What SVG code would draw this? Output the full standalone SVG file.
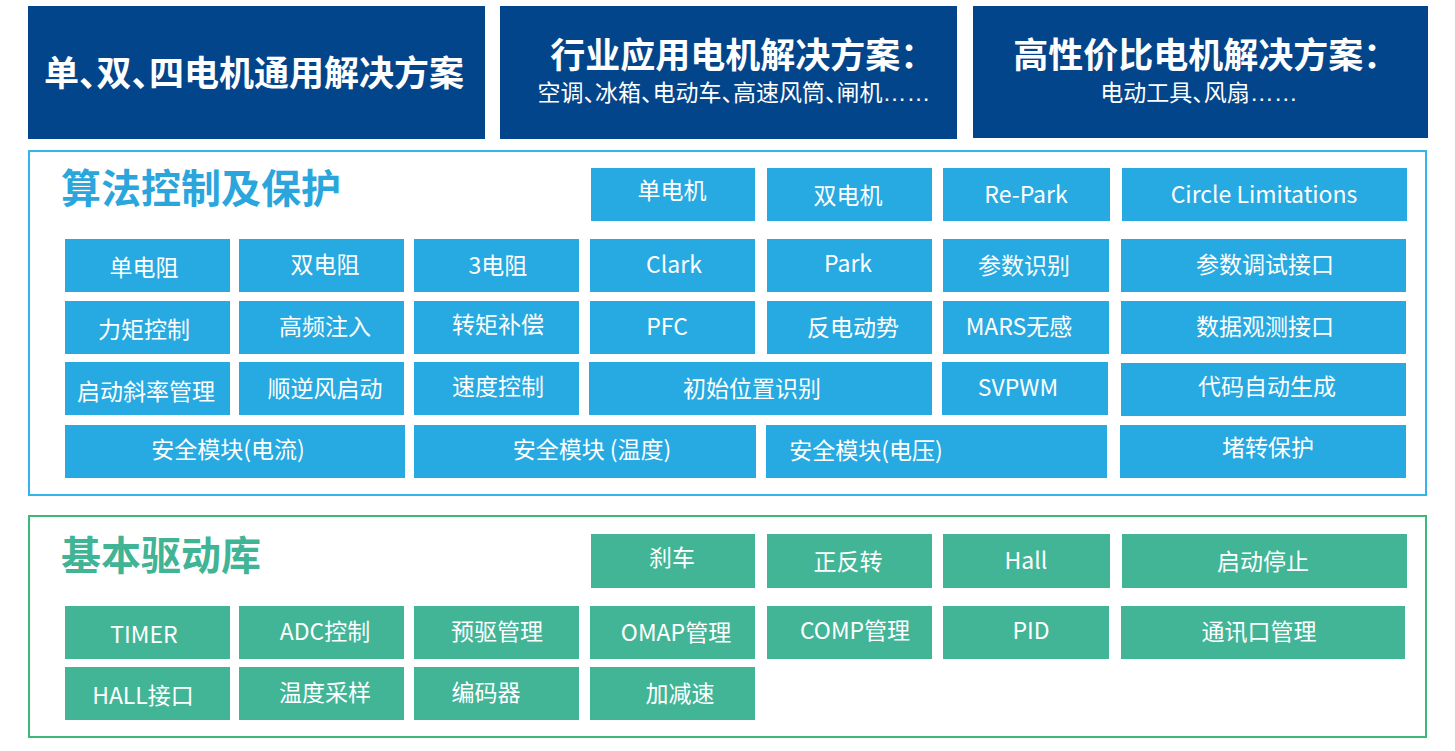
<svg xmlns="http://www.w3.org/2000/svg" width="1455" height="751" viewBox="0 0 1455 751">
<style>
text{font-family:"Noto Sans CJK SC","Noto Sans",sans-serif;text-anchor:middle;fill:#fff}
.hd{fill:#03458A}
.ht{font-size:35px;font-weight:bold;font-feature-settings:"halt"}
.hs{font-size:23px;font-feature-settings:"halt"}
.el{font-family:"Liberation Sans",sans-serif;font-size:24px}
.b{fill:#27AAE1}
.g{fill:#42B597}
.t{font-size:23px}
.pt{font-size:40px;font-weight:bold;text-anchor:start}
</style>
<rect width="1455" height="751" fill="#fff"/>
<g id="head1"><rect class="hd" x="28" y="6" width="457" height="133"/><text class="ht" x="254" y="86">单、双、四电机通用解决方案</text></g>
<g id="head2"><rect class="hd" x="500" y="6" width="457" height="133"/><text class="ht" x="734" y="68">行业应用电机解决方案：</text><text class="hs" x="734" y="101">空调、冰箱、电动车、高速风筒、闸机<tspan class="el">……</tspan></text></g>
<g id="head3"><rect class="hd" x="973" y="6" width="455" height="132"/><text class="ht" x="1197" y="68">高性价比电机解决方案：</text><text class="hs" x="1199" y="101">电动工具、风扇<tspan class="el">……</tspan></text></g>

<g id="panel-algo">
<rect x="29" y="151" width="1397" height="344" fill="none" stroke="#31B5EA" stroke-width="2"/>
<text class="pt" x="61" y="203" style="fill:#2AA6DD">算法控制及保护</text>
</g>
<g id="n-dandianji"><rect class="b" x="591" y="168" width="164" height="53"/><text class="t" x="672" y="199">单电机</text></g>
<g id="n-shuangdianji"><rect class="b" x="767" y="168" width="165" height="53"/><text class="t" x="848" y="204">双电机</text></g>
<g id="n-repark"><rect class="b" x="943" y="168" width="167" height="53"/><text class="t" x="1026" y="203">Re-Park</text></g>
<g id="n-circle"><rect class="b" x="1122" y="168" width="285" height="53"/><text class="t" x="1264" y="203">Circle Limitations</text></g>

<g id="n-dandianzu"><rect class="b" x="65" y="239" width="165" height="53"/><text class="t" x="144" y="276">单电阻</text></g>
<g id="n-shuangdianzu"><rect class="b" x="239" y="239" width="165" height="53"/><text class="t" x="325" y="273">双电阻</text></g>
<g id="n-3dianzu"><rect class="b" x="414" y="239" width="165" height="53"/><text class="t" x="498" y="274">3电阻</text></g>
<g id="n-clark"><rect class="b" x="590" y="239" width="165" height="53"/><text class="t" x="674" y="273">Clark</text></g>
<g id="n-park"><rect class="b" x="767" y="239" width="165" height="53"/><text class="t" x="848" y="272">Park</text></g>
<g id="n-canshushibie"><rect class="b" x="943" y="239" width="166" height="53"/><text class="t" x="1024" y="274">参数识别</text></g>
<g id="n-canshutiaoshi"><rect class="b" x="1121" y="239" width="285" height="53"/><text class="t" x="1265" y="273">参数调试接口</text></g>

<g id="n-liju"><rect class="b" x="65" y="301" width="165" height="53"/><text class="t" x="144" y="338">力矩控制</text></g>
<g id="n-gaopin"><rect class="b" x="239" y="301" width="165" height="53"/><text class="t" x="325" y="335">高频注入</text></g>
<g id="n-zhuanju"><rect class="b" x="414" y="301" width="165" height="53"/><text class="t" x="498" y="333">转矩补偿</text></g>
<g id="n-pfc"><rect class="b" x="590" y="301" width="165" height="53"/><text class="t" x="667" y="335">PFC</text></g>
<g id="n-fandian"><rect class="b" x="767" y="301" width="165" height="53"/><text class="t" x="853" y="336">反电动势</text></g>
<g id="n-mars"><rect class="b" x="943" y="301" width="166" height="53"/><text class="t" x="1019" y="335">MARS无感</text></g>
<g id="n-shujuguance"><rect class="b" x="1121" y="301" width="285" height="53"/><text class="t" x="1265" y="335">数据观测接口</text></g>

<g id="n-qidongxielv"><rect class="b" x="65" y="362" width="165" height="53"/><text class="t" x="146" y="400">启动斜率管理</text></g>
<g id="n-shunnifeng"><rect class="b" x="239" y="362" width="165" height="53"/><text class="t" x="325" y="397">顺逆风启动</text></g>
<g id="n-sudu"><rect class="b" x="414" y="362" width="165" height="53"/><text class="t" x="498" y="395">速度控制</text></g>
<g id="n-chushi"><rect class="b" x="589" y="362" width="343" height="53"/><text class="t" x="752" y="397">初始位置识别</text></g>
<g id="n-svpwm"><rect class="b" x="942" y="362" width="166" height="53"/><text class="t" x="1018" y="396">SVPWM</text></g>
<g id="n-daima"><rect class="b" x="1121" y="363" width="285" height="53"/><text class="t" x="1267" y="395">代码自动生成</text></g>

<g id="n-anquan-dianliu"><rect class="b" x="65" y="425" width="340" height="53"/><text class="t" x="228" y="458">安全模块(电流)</text></g>
<g id="n-anquan-wendu"><rect class="b" x="414" y="425" width="342" height="53"/><text class="t" x="592" y="458">安全模块 (温度)</text></g>
<g id="n-anquan-dianya"><rect class="b" x="766" y="425" width="341" height="53"/><text class="t" x="866" y="459">安全模块(电压)</text></g>
<g id="n-duzhuan"><rect class="b" x="1120" y="425" width="286" height="53"/><text class="t" x="1268" y="456">堵转保护</text></g>

<g id="panel-driver">
<rect x="29" y="516" width="1397" height="221" fill="none" stroke="#3CB878" stroke-width="2"/>
<text class="pt" x="61" y="570" style="fill:#41B495">基本驱动库</text>
</g>
<g id="n-shache"><rect class="g" x="591" y="534" width="164" height="54"/><text class="t" x="672" y="566">刹车</text></g>
<g id="n-zhengfan"><rect class="g" x="767" y="534" width="165" height="54"/><text class="t" x="848" y="570">正反转</text></g>
<g id="n-hall"><rect class="g" x="943" y="534" width="167" height="54"/><text class="t" x="1026" y="569">Hall</text></g>
<g id="n-qidongtingzhi"><rect class="g" x="1122" y="534" width="285" height="54"/><text class="t" x="1263" y="570">启动停止</text></g>

<g id="n-timer"><rect class="g" x="65" y="606" width="165" height="53"/><text class="t" x="144" y="643">TIMER</text></g>
<g id="n-adc"><rect class="g" x="239" y="606" width="165" height="53"/><text class="t" x="325" y="640">ADC控制</text></g>
<g id="n-yuqu"><rect class="g" x="414" y="606" width="165" height="53"/><text class="t" x="497" y="640">预驱管理</text></g>
<g id="n-omap"><rect class="g" x="590" y="606" width="165" height="53"/><text class="t" x="676" y="641">OMAP管理</text></g>
<g id="n-comp"><rect class="g" x="767" y="606" width="165" height="53"/><text class="t" x="855" y="639">COMP管理</text></g>
<g id="n-pid"><rect class="g" x="943" y="606" width="166" height="53"/><text class="t" x="1031" y="639">PID</text></g>
<g id="n-tongxun"><rect class="g" x="1121" y="606" width="284" height="53"/><text class="t" x="1259" y="640">通讯口管理</text></g>

<g id="n-hallport"><rect class="g" x="65" y="667" width="165" height="53"/><text class="t" x="143" y="704">HALL接口</text></g>
<g id="n-wendu"><rect class="g" x="239" y="667" width="165" height="53"/><text class="t" x="325" y="701">温度采样</text></g>
<g id="n-bianma"><rect class="g" x="414" y="667" width="165" height="53"/><text class="t" x="486" y="701">编码器</text></g>
<g id="n-jiajian"><rect class="g" x="590" y="667" width="165" height="53"/><text class="t" x="680" y="702">加减速</text></g>
<g id="connectors"/>
</svg>
